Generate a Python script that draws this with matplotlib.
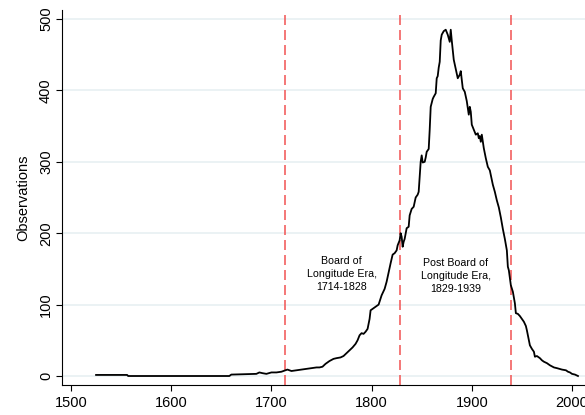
import numpy as np
import matplotlib
matplotlib.use("Agg")
import matplotlib.pyplot as plt

plt.rcParams['font.family'] = ['Liberation Sans', 'DejaVu Sans']

# yearly observation counts
years = [1525, 1556, 1557, 1658, 1660, 1685, 1688, 1691, 1695, 1700, 1705, 1710,
         1714, 1716, 1720, 1725, 1730, 1735, 1740, 1745, 1748, 1751, 1754, 1758,
         1762, 1765, 1769, 1772, 1775, 1778, 1781, 1784, 1786, 1788, 1790, 1792,
         1794, 1796, 1798, 1799, 1802, 1805, 1807, 1810, 1813, 1815, 1817, 1819,
         1821, 1823, 1825, 1826, 1828, 1829, 1830, 1831, 1832, 1833, 1835, 1837,
         1838, 1840, 1842, 1844, 1846, 1847, 1849, 1850, 1851, 1853, 1854, 1855,
         1857, 1858, 1859, 1861, 1862, 1864, 1865, 1866, 1867, 1868, 1869, 1870,
         1872, 1874, 1876, 1878, 1879, 1880, 1881, 1882, 1884, 1886, 1888, 1889,
         1891, 1893, 1895, 1897, 1898, 1899, 1900, 1902, 1904, 1906, 1907, 1908,
         1909, 1910, 1912, 1914, 1916, 1918, 1920, 1921, 1923, 1925, 1927, 1929,
         1931, 1933, 1935, 1936, 1937, 1939, 1941, 1943, 1944, 1946, 1948, 1950,
         1952, 1954, 1955, 1957, 1958, 1960, 1962, 1963, 1965, 1967, 1968, 1970,
         1972, 1975, 1978, 1982, 1985, 1990, 1994, 1996, 1998, 2000, 2003, 2006]
obs = [1.5, 1.5, 0, 0, 2, 3, 5, 4, 3, 5, 5, 6,
       8, 9, 7, 8, 9, 10, 11, 12, 12, 13, 17, 21,
       24, 25, 26, 28, 32, 36, 40, 45, 50, 57, 60, 59,
       62, 66, 80, 92, 95, 98, 100, 113, 122, 132, 145, 158,
       170, 172, 176, 183, 190, 200, 195, 181, 188, 192, 207, 209,
       225, 234, 237, 250, 254, 258, 300, 309, 299, 300, 306, 314,
       318, 345, 377, 388, 391, 396, 417, 420, 432, 440, 470, 478,
       483, 485, 478, 468, 485, 470, 457, 443, 430, 417, 422, 427,
       403, 398, 385, 366, 377, 370, 352, 345, 338, 340, 333, 336,
       328, 338, 319, 305, 293, 288, 275, 268, 258, 246, 236, 222,
       206, 192, 176, 153, 148, 127, 118, 102, 88, 87, 84, 80,
       76, 70, 64, 50, 43, 38, 34, 27, 28, 26, 25, 22,
       20, 18, 15, 12, 11, 9, 8, 6, 5, 3, 2, 0]

era_bounds = [1714, 1828, 1939]

fig = plt.figure(figsize=(5.85, 4.15), dpi=100)
ax = fig.add_axes([62 / 585, 30 / 415, 523 / 585, 375 / 415])

ax.set_xlim(1491, 2013)
ax.set_ylim(-12.6, 512.6)
ax.set_yticks(np.arange(0, 501, 100))
ax.set_xticks(np.arange(1500, 2001, 100))
ax.grid(axis='y', color='#e8f0f2', linewidth=1.2)
ax.set_axisbelow(True)

ax.plot(years, obs, color='black', linewidth=1.3, zorder=3)

for b in era_bounds:
    ax.axvline(b, color='#f26060', linewidth=1.2, dashes=(6, 3), zorder=2)

ax.text(1770, 143, "Board of\nLongitude Era,\n1714-1828", ha='center', va='center',
        fontsize=7.7, linespacing=1.35)
ax.text(1884, 140, "Post Board of\nLongitude Era,\n1829-1939", ha='center', va='center',
        fontsize=7.7, linespacing=1.35)

for s in ['top', 'right']:
    ax.spines[s].set_visible(False)
for s in ['left', 'bottom']:
    ax.spines[s].set_linewidth(0.8)

ax.tick_params(axis='both', direction='out', length=4.5, width=0.8, labelsize=10.5)
ax.tick_params(axis='y', pad=2)
plt.setp(ax.get_yticklabels(), rotation=90, va='center')
ax.set_ylabel("Observations", fontsize=10.5, labelpad=6)

fig.savefig("out.png", dpi=100)
